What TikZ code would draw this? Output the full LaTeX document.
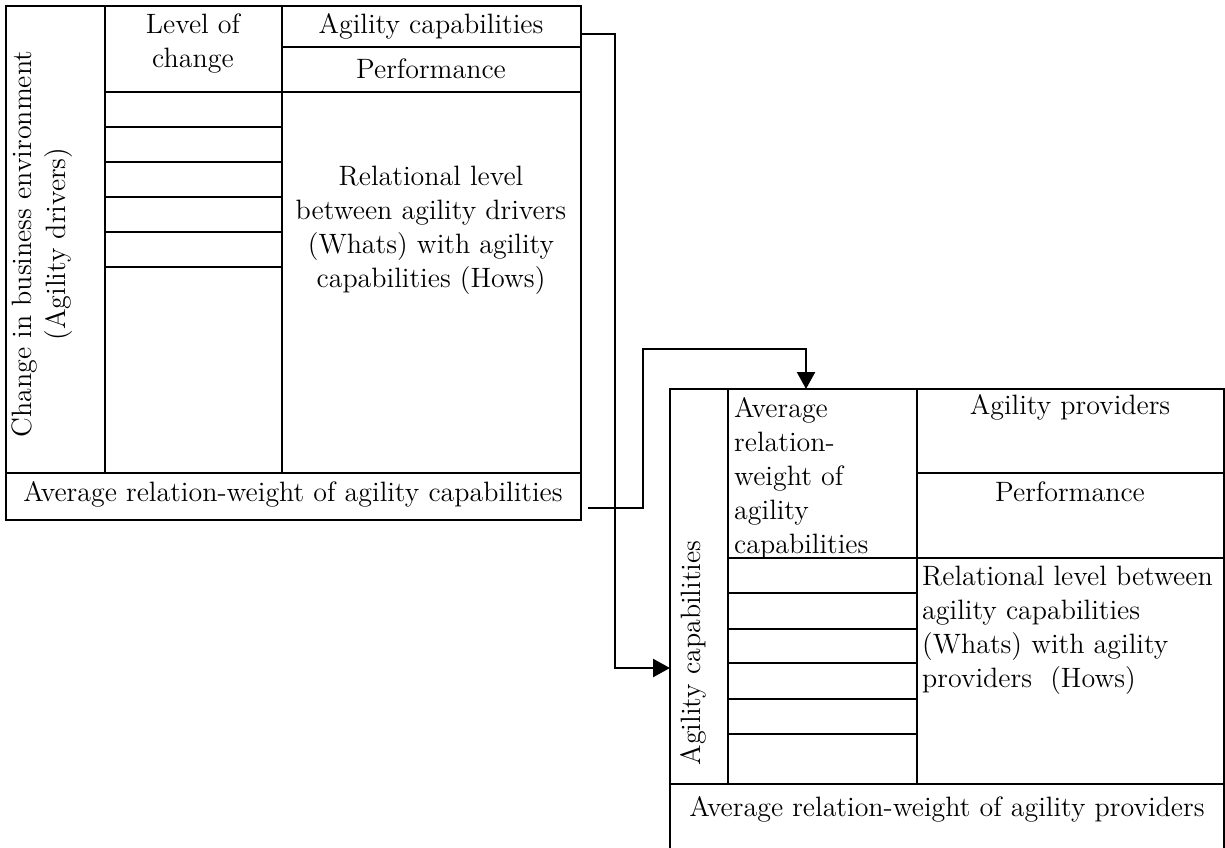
\documentclass[tikz,border=0pt]{standalone}
\usetikzlibrary{arrows.meta,positioning}
\begin{document}
\begin{tikzpicture}[x=0.5pt,y=-0.5pt,line width=1.2pt,
  txt/.style={font=\fontsize{14}{17}\selectfont,inner sep=0pt,align=center},
  arr/.style={-{Triangle[length=8.5pt,width=9pt]}}]
\useasboundingbox (0,0) rectangle (1225,847);
% left table
\draw (6,6) rectangle (581,520);
\draw (6,473) -- (581,473);
\draw (105,6) -- (105,473);
\draw (282,6) -- (282,473);
\draw (282,47) -- (581,47);
\draw (105,92) -- (581,92);
\foreach \y in {127,162,197,232,267}
  \draw (105,\y) -- (282,\y);
\node[txt] (capL) at (431,26) {Agility capabilities};
\node[txt] (perfL) at (431,69) {Performance};
\node[txt] (levL) at (193,44) {Level of\\change};
\node[txt] (relL) at (431,230) {Relational level\\between agility drivers\\(Whats) with agility\\capabilities (Hows)};
\node[txt,rotate=90] (drvL) at (42,244) {Change in business environment\\(Agility drivers)};
\node[txt] (avgL) at (293,494) {Average relation-weight of agility capabilities};
% right table
\draw (670,850) -- (670,389) -- (1224,389) -- (1224,850);
\draw (670,784) -- (1224,784);
\draw (728,389) -- (728,784);
\draw (917,389) -- (917,784);
\draw (917,473) -- (1224,473);
\draw (728,558) -- (1224,558);
\foreach \y in {593,629,663,699,734}
  \draw (728,\y) -- (917,\y);
\node[txt] (provR) at (1070,407) {Agility providers};
\node[txt] (perfR) at (1070,492) {Performance};
\node[txt,align=left,anchor=north west] (avgwR) at (733,396) {Average\\relation-\\weight of\\agility\\capabilities};
\node[txt,align=left,anchor=north west] (relR) at (921,565) {Relational level between\\agility capabilities\\(Whats) with agility\\providers\ \ (Hows)};
\node[txt,rotate=90] (capR) at (693,653) {Agility capabilities};
\node[txt,anchor=north] (avgpR) at (947,795) {Average relation-weight of agility providers};
% connectors
\coordinate (a1) at (581,34);
\coordinate (a2) at (670,668);
\coordinate (b1) at (588,508);
\coordinate (b2) at (806,389);
\draw[arr] (a1) -- ++(34,0) |- (a2);
\draw[arr] (b1) -- ++(55,0) -- ++(0,-159) -| (b2);
\end{tikzpicture}
\end{document}
